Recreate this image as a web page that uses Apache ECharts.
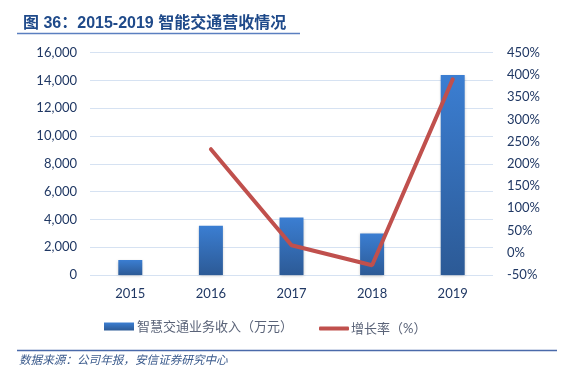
<!DOCTYPE html>
<html>
<head>
<meta charset="utf-8">
<script src="https://cdn.jsdelivr.net/npm/echarts@6/dist/echarts.min.js"></script>
<style>
  html, body { margin: 0; padding: 0; background: #fff; }
  #chart { width: 571px; height: 380px; }
</style>
</head>
<body>
<div id="chart"></div>
<script>
var years = ['2015', '2016', '2017', '2018', '2019'];
var revenue = [1080, 3540, 4130, 2990, 14400];
var growth = [null, 233, 17, -28, 390];

var labelColor = '#203864';
var font = 'Lato, "Noto Sans CJK SC", sans-serif';

var myChart = echarts.init(document.getElementById('chart'));
var option = {
    animation: false,
    title: {
        text: '图 36：2015-2019 智能交通营收情况',
        left: 18,
        top: 11,
        textStyle: {
            color: '#1f4a8a',
            fontSize: 16,
            fontWeight: 'bold',
            fontFamily: 'Arial, "Noto Sans CJK SC", sans-serif'
        }
    },
    graphic: [
        { type: 'line', shape: { x1: 17, y1: 33.5, x2: 300, y2: 33.5 }, style: { stroke: '#5b7fc0', lineWidth: 1.5 } },
        { type: 'line', shape: { x1: 17, y1: 350.5, x2: 557, y2: 350.5 }, style: { stroke: '#4a6aaa', lineWidth: 1.5 } },
        {
            type: 'text', left: 19, top: 354,
            style: {
                text: '数据来源：公司年报，安信证券研究中心',
                fill: '#3a5a8c',
                font: 'italic 11.6px "Noto Sans CJK SC", sans-serif'
            }
        }
    ],
    grid: {
        left: 90,
        right: 78,
        top: 52.7,
        bottom: 105
    },
    legend: [{
        data: [{ name: '智慧交通业务收入（万元）', icon: 'rect' }],
        left: 104,
        top: 320,
        padding: 0,
        itemWidth: 30,
        itemHeight: 8,
        textStyle: { color: '#5a6378', fontSize: 13, fontFamily: font, padding: [0, 0, 0, -2] }
    }, {
        data: [{ name: '增长率（%）', icon: 'roundRect' }],
        left: 319,
        top: 322,
        padding: 0,
        itemWidth: 30,
        itemHeight: 4,
        textStyle: { color: '#5a6378', fontSize: 13, fontFamily: font, padding: [0, 0, 0, -3] }
    }],
    xAxis: {
        type: 'category',
        data: years,
        axisLine: { show: false },
        axisTick: { show: false },
        axisLabel: { color: labelColor, fontSize: 13, fontFamily: font, margin: 12 }
    },
    yAxis: [{
        type: 'value',
        min: 0,
        max: 16000,
        interval: 2000,
        axisLine: { show: false },
        axisTick: { show: false },
        axisLabel: {
            color: labelColor, fontSize: 13, fontFamily: font, margin: 13,
            formatter: function (v) { return v.toLocaleString('en-US'); }
        },
        splitLine: { lineStyle: { color: '#d6e2f2', width: 1 } }
    }, {
        type: 'value',
        min: -50,
        max: 450,
        interval: 50,
        axisLine: { show: false },
        axisTick: { show: false },
        splitLine: { show: false },
        axisLabel: {
            color: labelColor, fontSize: 13, fontFamily: font, margin: 14,
            formatter: '{value}%'
        }
    }],
    series: [{
        name: '智慧交通业务收入（万元）',
        type: 'bar',
        data: revenue,
        barWidth: 24,
        itemStyle: {
            color: {
                type: 'linear', x: 0, y: 0, x2: 0, y2: 1,
                colorStops: [
                    { offset: 0, color: '#3b7ed2' },
                    { offset: 1, color: '#2c5a96' }
                ]
            },
            shadowColor: 'rgba(0,0,0,0.25)',
            shadowBlur: 3,
            shadowOffsetY: 1
        }
    }, {
        name: '增长率（%）',
        type: 'line',
        yAxisIndex: 1,
        data: growth,
        symbol: 'none',
        lineStyle: { color: '#c0504d', width: 4, cap: 'round' },
        itemStyle: { color: '#c0504d' }
    }]
};
myChart.setOption(option);
</script>
</body>
</html>
